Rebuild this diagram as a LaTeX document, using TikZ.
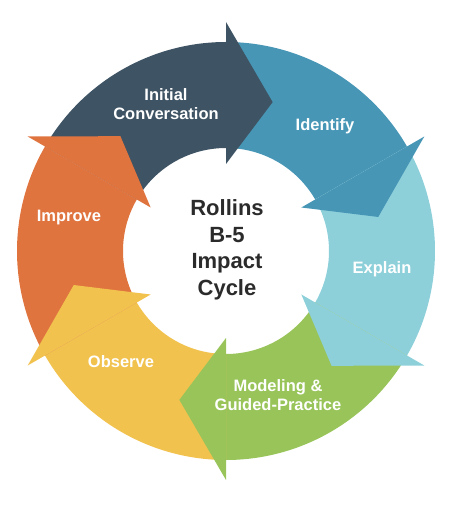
\documentclass[tikz,border=0pt]{standalone}
\usepackage{fontspec}
\setmainfont{Liberation Sans}
\usepackage{xcolor}
\usepackage{tikz}
\definecolor{cycnavy}  {HTML}{3E5363}
\definecolor{cycblue}  {HTML}{4796B6}
\definecolor{cyclight} {HTML}{8ED0DA}
\definecolor{cycgreen} {HTML}{98C459}
\definecolor{cycyellow}{HTML}{F1C24E}
\definecolor{cycorange}{HTML}{E0743F}
\definecolor{cychub}   {HTML}{2B2B2B}
\tikzset{
  % white label on a ring segment
  seglbl/.style={font=\fontsize{16.5}{19.5}\selectfont\bfseries, text=white,
                 align=center, inner sep=0pt},
  % label in the middle of the ring
  hublbl/.style={font=\fontsize{22}{26.5}\selectfont\bfseries, text=cychub,
                 align=center, inner sep=0pt},
}

\begin{document}
\begin{tikzpicture}[x=1pt,y=1pt]
    \useasboundingbox (-226,-254) rectangle (224,251);

    %% ── Ring bodies (head base angle / colour) ─────────────
    \foreach \b/\col in {90/cycnavy,30/cycblue,-30/cyclight,
                         -90/cycgreen,-150/cycyellow,150/cycorange}{
      \fill[\col] ({\b+60}:209) arc[start angle=\b+60,end angle=\b,radius=209]
            -- (\b:103) arc[start angle=\b,end angle=\b+60,radius=103] -- cycle;
    }

    %% ── Arrow heads, on top of the next body ───────────────
    \foreach \b/\col in {90/cycnavy,30/cycblue,-30/cyclight,
                         -90/cycgreen,-150/cycyellow,150/cycorange}{
      \fill[\col] (\b:229) -- ({\b-17.4}:156) -- (\b:87) -- cycle;
    }

    %% ── Labels ─────────────────────────────────────────────
    \node[seglbl] (initial)  at (-60,147)  {Initial\\Conversation};
    \node[seglbl] (identify) at (99,125)   {Identify};
    \node[seglbl] (explain)  at (156,-18)  {Explain};
    \node[seglbl] (modeling) at (52,-144)  {Modeling \&\\Guided-Practice};
    \node[seglbl] (observe)  at (-105,-111){Observe};
    \node[seglbl] (improve)  at (-157,33)  {Improve};

    \node[hublbl] (hub) at (1,1) {Rollins\\B-5\\Impact\\Cycle};

\end{tikzpicture}
\end{document}
